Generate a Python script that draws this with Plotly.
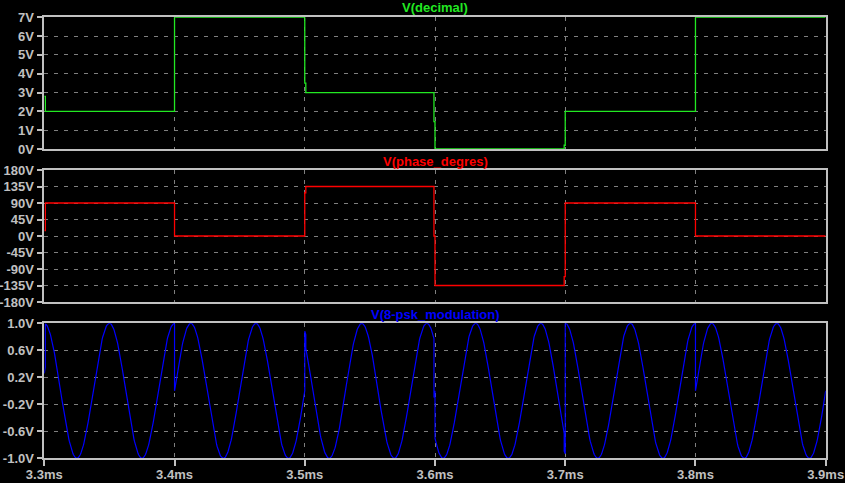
import numpy as np
import plotly.graph_objects as go

# ---- data ----
seg_start_ms = [3.3000, 3.3008, 3.4000, 3.5000, 3.5008, 3.5992, 3.6000, 3.6992, 3.7000, 3.8000]
decimal_v    = [2.8,    2.0,    7.0,    3.5,    3.0,    1.45,   0.0,    0.2,    2.0,    7.0]
phase_deg    = [15,     90,     0,      118,    135,    0,      -135,   -111,   90,     0]
end_ms = 3.9
carrier_khz = 20.0
amplitude = 1.0

x_ticks = [3.3, 3.4, 3.5, 3.6, 3.7, 3.8, 3.9]
x_tick_labels = ["3.3ms", "3.4ms", "3.5ms", "3.6ms", "3.7ms", "3.8ms", "3.9ms"]
dec_ticks = [0, 1, 2, 3, 4, 5, 6, 7]
dec_tick_labels = ["0V", "1V", "2V", "3V", "4V", "5V", "6V", "7V"]
ph_ticks = [-180, -135, -90, -45, 0, 45, 90, 135, 180]
ph_tick_labels = ["-180V", "-135V", "-90V", "-45V", "0V", "45V", "90V", "135V", "180V"]
mod_ticks = [-1.0, -0.6, -0.2, 0.2, 0.6, 1.0]
mod_tick_labels = ["-1.0V", "-0.6V", "-0.2V", "0.2V", "0.6V", "1.0V"]

# ---- derived modulation signal: amplitude*sin(2*pi*f*t + phase) per segment ----
bounds = seg_start_ms + [end_ms]
t_mod, y_mod = [], []
for i, ph in enumerate(phase_deg):
    t0, t1 = bounds[i], bounds[i + 1]
    n = max(3, int((t1 - t0) / 0.0004) + 2)
    t = np.linspace(t0, t1, n)
    y = amplitude * np.sin(2 * np.pi * carrier_khz * t + np.deg2rad(ph))
    t_mod.extend(t.tolist())
    y_mod.extend(y.tolist())

W, H = 845, 483
GREEN = "#22e822"
RED = "#ff0000"
BLUE = "#0000ff"
BOX = "#c0c0c0"
GRID = "#7f7f7f"
TXT = "#c0c0c0"
FAM = "Liberation Sans, Arial, sans-serif"
TFONT = dict(family=FAM, size=13, color=TXT, weight="bold")

fig = go.Figure()
fig.add_trace(go.Scatter(x=bounds, y=decimal_v + [decimal_v[-1]], mode="lines",
                         line=dict(color=GREEN, width=1.3, shape="hv"),
                         xaxis="x", yaxis="y", showlegend=False))
fig.add_trace(go.Scatter(x=bounds, y=phase_deg + [phase_deg[-1]], mode="lines",
                         line=dict(color=RED, width=1.3, shape="hv"),
                         xaxis="x2", yaxis="y2", showlegend=False))
fig.add_trace(go.Scatter(x=t_mod, y=y_mod, mode="lines",
                         line=dict(color=BLUE, width=1.2),
                         xaxis="x3", yaxis="y3", showlegend=False))

xdom = [44.3 / W, 825.7 / W]
def ydom(top_px, bot_px):
    return [(H - bot_px) / H, (H - top_px) / H]

common_x = dict(domain=xdom, range=[3.3, 3.9], tickmode="array", tickvals=x_ticks,
                showgrid=True, gridcolor=GRID, griddash="4px,6px", gridwidth=1,
                zeroline=False, showline=True, linecolor=BOX, linewidth=1.5,
                mirror=True, automargin=False)
common_y = dict(showgrid=True, gridcolor=GRID, griddash="4px,6px", gridwidth=1,
                zeroline=False, showline=True, linecolor=BOX, linewidth=1.5, mirror=True,
                ticks="outside", ticklen=6, tickcolor=BOX, tickwidth=1.5,
                tickmode="array", tickfont=TFONT, automargin=False)

fig.update_layout(
    width=W, height=H,
    margin=dict(l=0, r=0, t=0, b=0, pad=0),
    paper_bgcolor="black", plot_bgcolor="black",
    xaxis=dict(common_x, anchor="y", showticklabels=False, ticks=""),
    xaxis2=dict(common_x, anchor="y2", showticklabels=False, ticks=""),
    xaxis3=dict(common_x, anchor="y3", showticklabels=True, ticks="outside",
                ticklen=6, tickcolor=BOX, tickwidth=1.5, ticktext=x_tick_labels,
                tickfont=TFONT, ticklabelstandoff=-3),
    yaxis=dict(common_y, domain=ydom(17.3, 149), anchor="x", range=[0, 7],
               tickvals=dec_ticks, ticktext=dec_tick_labels),
    yaxis2=dict(common_y, domain=ydom(170, 302), anchor="x2", range=[-180, 180],
                tickvals=ph_ticks, ticktext=ph_tick_labels),
    yaxis3=dict(common_y, domain=ydom(323.3, 458.3), anchor="x3", range=[-1, 1],
                tickvals=mod_ticks, ticktext=mod_tick_labels),
)

cx = (xdom[0] + xdom[1]) / 2
for label, color, ypx in [("V(decimal)", GREEN, 7.5),
                          ("V(phase_degres)", RED, 161.5),
                          ("V(8-psk_modulation)", BLUE, 314)]:
    fig.add_annotation(text=label, x=cx, y=(H - ypx) / H, xref="paper", yref="paper",
                       showarrow=False, xanchor="center", yanchor="middle",
                       font=dict(family=FAM, size=13, color=color, weight="bold"))

fig.write_html("out.html", config={"displayModeBar": False},
               post_script="document.body.style.margin='0';document.body.style.padding='0';")
